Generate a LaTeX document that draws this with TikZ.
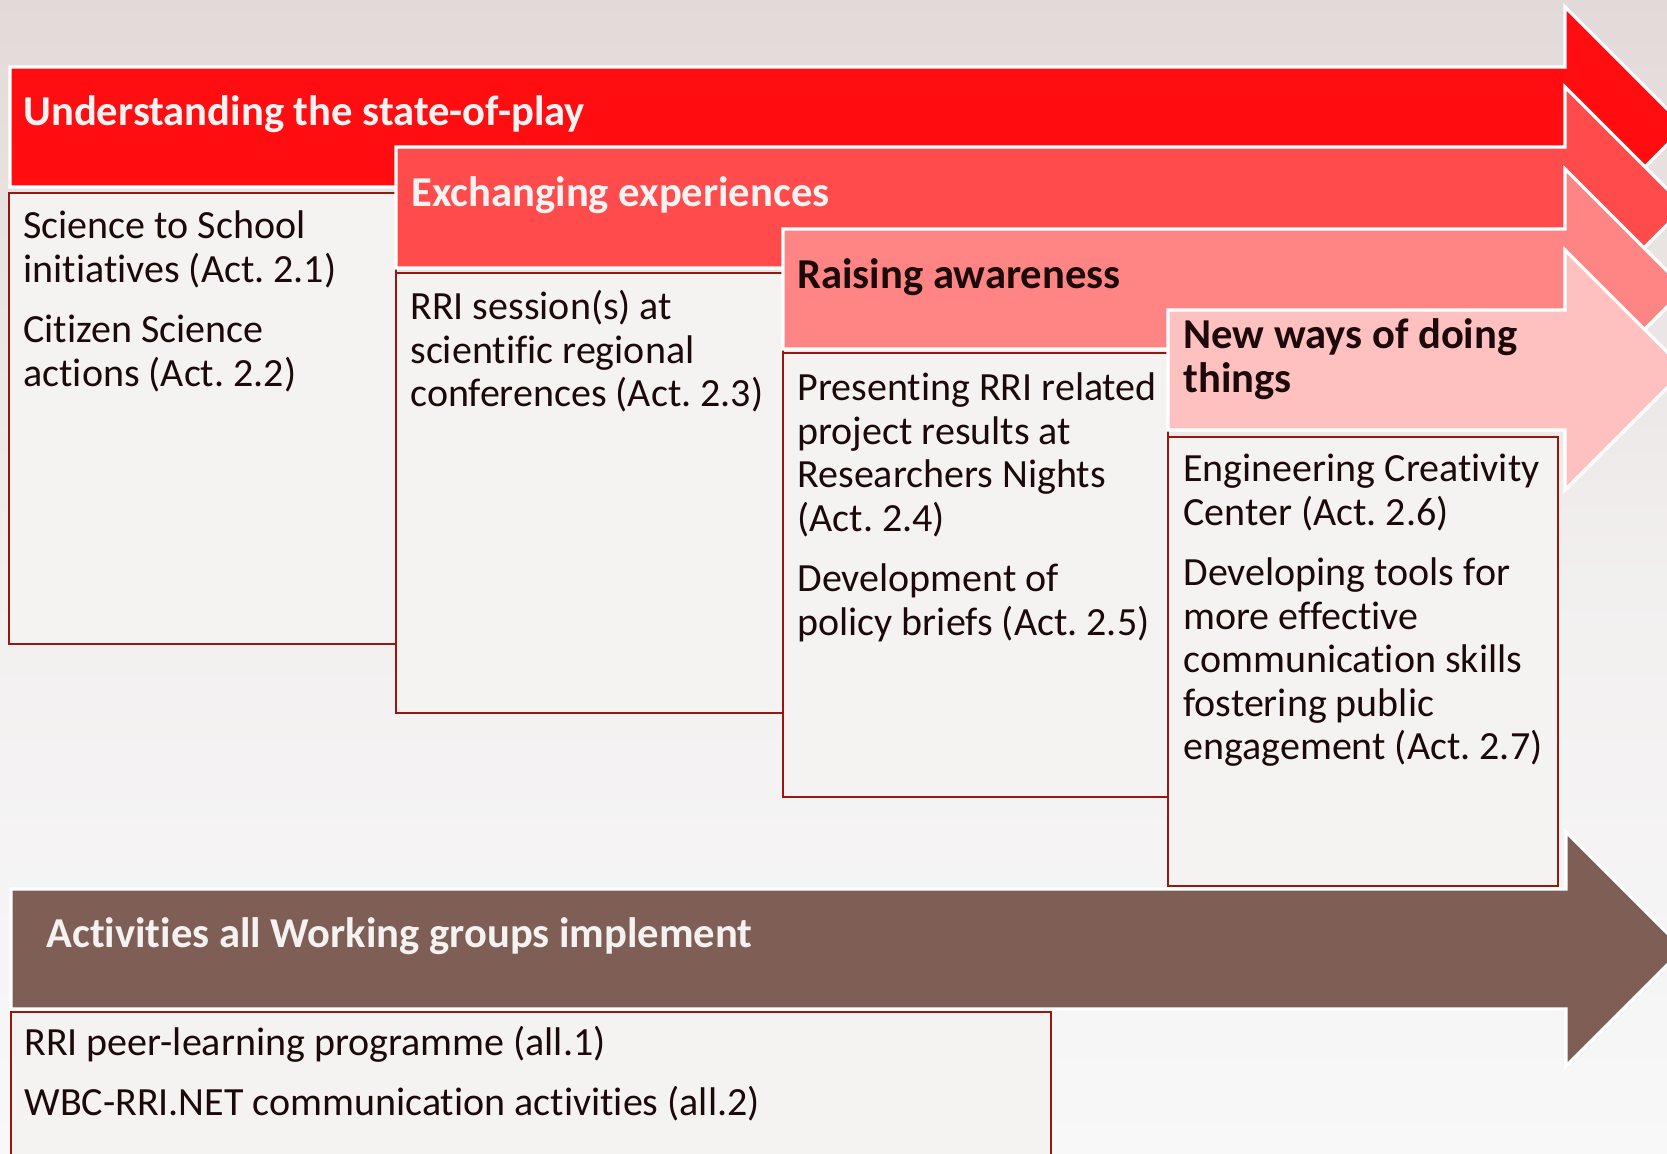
\documentclass[tikz,border=0pt]{standalone}
\usepackage{fontspec}
\setmainfont{Carlito}[Ligatures={NoCommon,NoContextual},RawFeature={-liga;-clig;-calt;-dlig}]
\definecolor{bgtop}{RGB}{226,218,216}
\definecolor{bgmid}{RGB}{242,239,239}
\definecolor{bgbot}{RGB}{248,248,248}
\definecolor{arA}{RGB}{255,13,16}
\definecolor{arB}{RGB}{255,75,75}
\definecolor{arC}{RGB}{255,133,133}
\definecolor{arD}{RGB}{255,192,192}
\definecolor{arE}{RGB}{127,95,85}
\definecolor{boxline}{RGB}{150,24,14}
\definecolor{boxfill}{RGB}{245,242,242}
\definecolor{bodytext}{RGB}{28,10,10}
\definecolor{headwhite}{RGB}{245,242,242}
\newcommand{\bodyfont}{\fontsize{20}{21.75}\selectfont}
\newcommand{\headfont}{\bfseries\fontsize{21.3}{21.75}\selectfont}
\newcommand{\mypargap}{\par\vspace{8.5pt}}
\tikzset{
  arrowshape/.style={draw=white, line width=1.6pt, line join=miter},
  listbox/.style={draw=boxline, fill=boxfill, line width=1.3pt},
  headtext/.style={anchor=base west, inner sep=0pt, font=\headfont},
  bodytxt/.style={anchor=base west, inner sep=0pt, text=bodytext},
}
\begin{document}
\frenchspacing
\begin{tikzpicture}[x=0.5pt,y=-0.5pt]
\useasboundingbox (0,0) rectangle (1667,1154);
\shade[top color=bgtop, bottom color=bgbot, middle color=bgmid] (0,0) rectangle (1667,1154);
% arrow 1
\filldraw[arrowshape, fill=arA] (10,67) -- (1565,67) -- (1565,7) -- (1685,127) -- (1565,247) -- (1565,187) -- (10,187) -- cycle;
\draw[listbox] (9,193) rectangle (396,644);
% arrow 2
\filldraw[arrowshape, fill=arB] (396,147) -- (1565,147) -- (1565,87) -- (1685,207) -- (1565,327) -- (1565,268) -- (396,268) -- cycle;
\draw[listbox] (396,273) rectangle (783,713);
% arrow 3
\filldraw[arrowshape, fill=arC] (783,229) -- (1565,229) -- (1565,169) -- (1685,289) -- (1565,409) -- (1565,349) -- (783,349) -- cycle;
\draw[listbox] (783,353) rectangle (1168,797);
% arrow 4
\filldraw[arrowshape, fill=arD] (1168,310) -- (1565,310) -- (1565,250) -- (1685,370) -- (1565,490) -- (1565,430) -- (1168,430) -- cycle;
\draw[listbox] (1168,437) rectangle (1558,886);
% brown arrow
\filldraw[arrowshape, fill=arE] (11,889) -- (1566,889) -- (1566,832) -- (1683,949) -- (1566,1066) -- (1566,1009) -- (11,1009) -- cycle;
\draw[listbox] (11,1012) rectangle (1051,1170);
% headers
\node[headtext, text=headwhite] (h1) at (23,126) {Understanding the state-of-play};
\node[headtext, text=headwhite] (h2) at (411,207) {Exchanging experiences};
\node[headtext, text=bodytext] (h3) at (797,289) {Raising awareness};
\node[headtext, text=bodytext] (h4) at (1183,349) {\parbox[t]{220pt}{\headfont New ways of doing\\things}};
\node[headtext, text=headwhite] (h5) at (46,948) {Activities all Working groups implement};
% bodies
\node[bodytxt] (b1) at (23,239) {\parbox[t]{190pt}{\bodyfont Science to School\\initiatives (Act. 2.1)\mypargap Citizen Science\\actions (Act. 2.2)}};
\node[bodytxt] (b2) at (410,320) {\parbox[t]{190pt}{\bodyfont RRI session(s) at\\scientific regional\\conferences (Act. 2.3)}};
\node[bodytxt] (b3) at (797,401) {\parbox[t]{190pt}{\bodyfont Presenting RRI related\\project results at\\Researchers Nights\\(Act. 2.4)\mypargap Development of\\policy briefs (Act. 2.5)}};
\node[bodytxt] (b4) at (1183,482) {\parbox[t]{190pt}{\bodyfont Engineering Creativity\\Center (Act. 2.6)\mypargap Developing tools for\\more effective\\communication skills\\fostering public\\engagement (Act. 2.7)}};
\node[bodytxt] (b5) at (24,1055) {\parbox[t]{500pt}{\bodyfont RRI peer-learning programme (all.1)\mypargap WBC-RRI.NET communication activities (all.2)}};
\end{tikzpicture}
\end{document}
